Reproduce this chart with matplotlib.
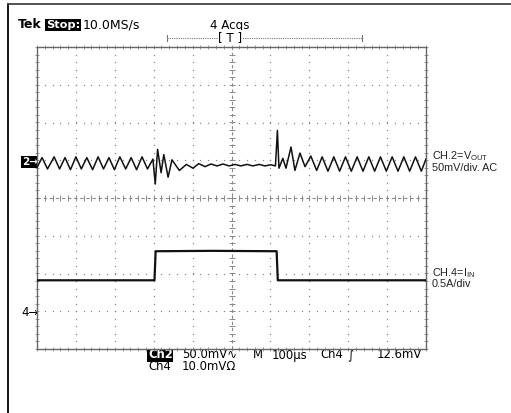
import matplotlib
matplotlib.use('Agg')
import matplotlib.pyplot as plt
import numpy as np

plt.rcParams['font.family'] = ['DejaVu Sans']
plt.rcParams['mathtext.fontset'] = 'custom'
plt.rcParams['mathtext.rm'] = 'Liberation Sans'

ch2_t = [0, 13, 27, 44, 58, 72, 86, 100, 114, 128, 143, 157, 171, 185, 199,
         213, 228, 242, 256, 270, 284, 298, 304, 310, 319, 326, 337, 347, 366,
         384, 401, 416, 432, 447, 463, 478, 494, 509, 524, 540, 555, 571, 586,
         601, 613, 618, 622, 632, 640, 653, 663, 676, 689, 704, 719, 733, 748,
         763, 778, 793, 808, 823, 838, 853, 868, 883, 898, 913, 928, 943, 958,
         973, 988, 1000]
ch2_mv = [-7, 6, -9, 7, -9, 6, -10, 7, -9, 6, -10, 7, -9, 6, -10,
          7, -9, 6, -10, 7, -9, 4, -29, 17, -14, 10, -20, 3, -11,
          -3, -8, -2, -6, -2.5, -5, -2.5, -5, -3, -5, -3, -5, -3, -5,
          -3.5, -5, 42, -8, 5, -8, 20, -11, 12, -6, 8, -11, 7, -12,
          7, -12, 7, -12, 7, -12, 7, -12, 7, -12, 7, -12, 7, -12,
          7, -12, 4]

# Ch4 (I_IN): time in us, current in A
ch4_t = [0, 150, 302, 305, 450, 616, 619, 800, 1000]
ch4_a = [0.41, 0.41, 0.41, 0.795, 0.80, 0.795, 0.41, 0.41, 0.41]

ch2_pos = 0.95    # divisions above centre
ch4_pos = -3.0
ch2_scale = 50.0  # mV/div
ch4_scale = 0.5   # A/div

W, H = 511, 413
fig = plt.figure(figsize=(W / 100, H / 100), dpi=100)

# background layer in pixel units for frame and text
bg = fig.add_axes([0, 0, 1, 1])
bg.set_xlim(0, W)
bg.set_ylim(H, 0)
bg.axis('off')

bg.plot([8, 8], [4, H], color='black', lw=1.3)
bg.plot([8, W], [4, 4], color='#444444', lw=1.3)

# graticule
gl, gr, gt, gb = 37, 426, 47, 349
ax = fig.add_axes([gl / W, (H - gb) / H, (gr - gl) / W, (gb - gt) / H])
ax.set_xlim(0, 1000)
ax.set_ylim(-4, 4)
ax.set_xticks([])
ax.set_yticks([])
for s in ax.spines.values():
    s.set_color('#666666')
    s.set_linewidth(1.0)

grid_c = '#8a8a8a'
xs = np.arange(0, 1001, 20)
ys = np.arange(-4, 4.01, 0.2)
for k in range(1, 10):
    if k == 5:
        continue
    ax.plot(np.full_like(ys, k * 100), ys, ls='none', marker='s', ms=0.9,
            mec='none', mfc=grid_c)
for j in range(-3, 4):
    if j == 0:
        continue
    ax.plot(xs, np.full_like(xs, j, dtype=float), ls='none', marker='s',
            ms=0.9, mec='none', mfc=grid_c)

# centre lines with ticks
ax.axhline(0, color=grid_c, lw=0.8, ls=(0, (3, 2.5)))
ax.axvline(500, color=grid_c, lw=0.8, ls=(0, (3, 2.5)))
ax.plot(xs, np.zeros_like(xs, dtype=float), ls='none', marker='|', ms=4,
        mew=0.7, color=grid_c)
ax.plot(np.full_like(ys, 500), ys, ls='none', marker='_', ms=4, mew=0.7,
        color=grid_c)
# edge ticks
ax.plot(xs, np.full_like(xs, 4, dtype=float), ls='none', marker='|', ms=3,
        mew=0.6, color=grid_c, clip_on=False)
ax.plot(xs, np.full_like(xs, -4, dtype=float), ls='none', marker='|', ms=3,
        mew=0.6, color=grid_c, clip_on=False)
ax.plot(np.full_like(ys, 0), ys, ls='none', marker='_', ms=3, mew=0.6,
        color=grid_c, clip_on=False)
ax.plot(np.full_like(ys, 1000), ys, ls='none', marker='_', ms=3, mew=0.6,
        color=grid_c, clip_on=False)

# traces
ax.plot(ch2_t, ch2_pos + np.array(ch2_mv) / ch2_scale, color='#111111',
        lw=1.1, zorder=5)
ax.plot(ch4_t, ch4_pos + np.array(ch4_a) / ch4_scale, color='#111111',
        lw=1.6, zorder=5)

# header
fs = 8.6
bg.text(18, 25, 'Tek', fontsize=9, fontweight='bold', va='center')
bg.text(46, 25, 'Stop:', fontsize=8.2, fontweight='bold', color='white',
        va='center', bbox=dict(boxstyle='square,pad=0.08', fc='black', ec='none'))
bg.text(83, 25, '10.0MS/s', fontsize=9, va='center')
bg.text(210, 25, '4 Acqs', fontsize=fs, va='center')
bg.plot([167, 362], [38, 38], color='#777777', lw=0.8, ls=(0, (1, 1)))
bg.plot([167, 167], [35, 41], color='#777777', lw=0.8)
bg.plot([362, 362], [35, 41], color='#777777', lw=0.8)
bg.text(230.5, 37.5, '[ T ]', fontsize=fs, va='center', ha='center',
        bbox=dict(boxstyle='square,pad=0.05', fc='white', ec='none'))
bg.text(100, 57, 'Ch2 Zoom:', fontsize=fs, va='center')
bg.text(189, 57, '1.0X Vert', fontsize=fs, va='center')
bg.text(258, 57, '0.05X Horz', fontsize=fs, va='center')

# channel markers
bg.text(22, 162, '2\u2192', fontsize=7.5, fontweight='bold', color='white',
        va='center', bbox=dict(boxstyle='square,pad=0.1', fc='black', ec='none'))
bg.text(21, 312, '4\u2192', fontsize=8.5, va='center')
bg.text(425, 264, '\u2190', fontsize=8, fontweight='bold', va='center', ha='right')

# right labels
rfs = 7.8
bg.text(432, 156, r'CH.2=V$_{\mathregular{OUT}}$', fontsize=rfs, va='center',
        color='#222222', family='Liberation Sans')
bg.text(432, 168, '50mV/div. AC', fontsize=rfs, va='center', color='#222222',
        family='Liberation Sans')
bg.text(432, 273, r'CH.4=I$_{\mathregular{IN}}$', fontsize=rfs, va='center',
        color='#222222', family='Liberation Sans')
bg.text(432, 284, '0.5A/div', fontsize=rfs, va='center', color='#222222',
        family='Liberation Sans')

# footer
ffs = 8.4
bg.text(148, 355, 'Ch2', fontsize=ffs, fontweight='bold', color='white',
        va='center', bbox=dict(boxstyle='square,pad=0.05', fc='black', ec='none'))
bg.text(182, 355, '50.0mV\u223f', fontsize=ffs, va='center')
bg.text(253, 355, 'M', fontsize=ffs, va='center')
bg.text(272, 355, '100\u00b5s', fontsize=ffs, va='center')
bg.text(320, 355, 'Ch4', fontsize=ffs, va='center')
bg.text(347, 355, '\u222b', fontsize=ffs, va='center')
bg.text(377, 355, '12.6mV', fontsize=ffs, va='center')
bg.text(148, 367, 'Ch4', fontsize=ffs, va='center')
bg.text(182, 367, '10.0mV\u03a9', fontsize=ffs, va='center')

fig.savefig('out.png', dpi=100)
